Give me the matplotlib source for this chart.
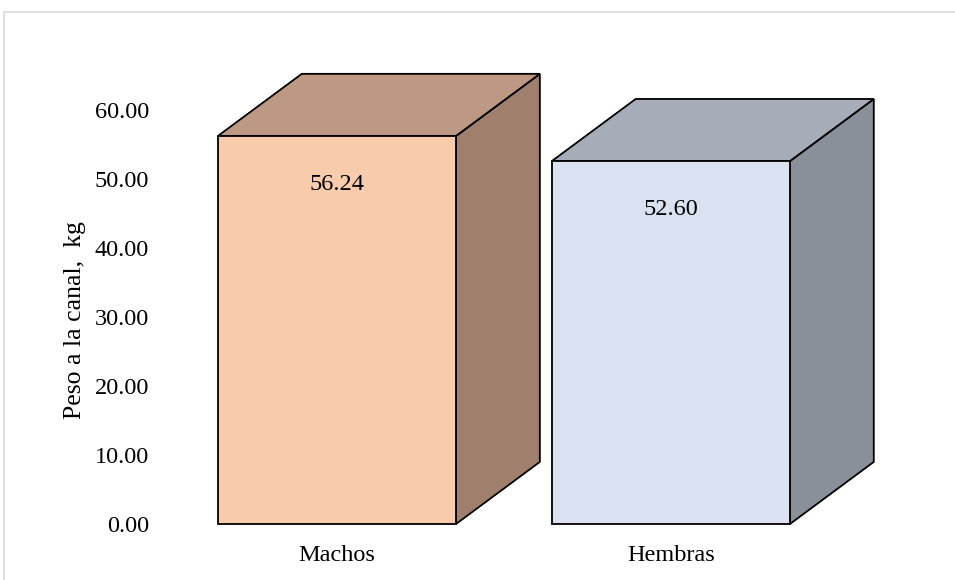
import matplotlib.pyplot as plt
from matplotlib.patches import Polygon, Rectangle

plt.rcParams['font.family'] = ['Liberation Serif', 'DejaVu Serif']

categories = ['Machos', 'Hembras']
values = [56.24, 52.60]
front_colors = ['#F8CBAD', '#DAE1F0']
top_colors = ['#BD9882', '#A6ADB8']
side_colors = ['#A0806C', '#8A9099']

bar_w = 0.713
depth_x = 0.251
depth_y = 9.0

fig = plt.figure(figsize=(9.55, 5.8), dpi=100)
ax = fig.add_axes([160 / 955, 56 / 580, 740 / 955, 483 / 580])
ax.set_xlim(-0.53, 1.686)
ax.set_ylim(0, 70)

# outer chart frame
fig.add_artist(Rectangle((4 / 955, -0.05), 1.1, (580 - 12) / 580 + 0.05,
                         transform=fig.transFigure, fill=False,
                         edgecolor='#D9D9D9', linewidth=1.2))

for i, (cat, v) in enumerate(zip(categories, values)):
    x0 = i - bar_w / 2
    x1 = i + bar_w / 2
    front = [(x0, 0), (x1, 0), (x1, v), (x0, v)]
    top = [(x0, v), (x1, v), (x1 + depth_x, v + depth_y), (x0 + depth_x, v + depth_y)]
    side = [(x1, 0), (x1 + depth_x, depth_y), (x1 + depth_x, v + depth_y), (x1, v)]
    for pts, col in [(side, side_colors[i]), (top, top_colors[i]), (front, front_colors[i])]:
        ax.add_patch(Polygon(pts, closed=True, facecolor=col, edgecolor='black',
                             linewidth=1.3, joinstyle='miter', clip_on=False))
    ax.text(i, v - 7.0, f'{v:.2f}', ha='center', va='center', fontsize=17.5)

ax.set_yticks(range(0, 61, 10))
ax.set_yticklabels([f'{t:.2f}' for t in range(0, 61, 10)], fontsize=17.5)
ax.set_xticks(range(len(categories)))
ax.set_xticklabels(categories, fontsize=17.5)
ax.tick_params(axis='both', length=0)
ax.tick_params(axis='y', pad=8)
ax.tick_params(axis='x', pad=15)
ax.set_ylabel('Peso a la canal,  kg', fontsize=18.5, va='center')
ax.yaxis.set_label_coords(-0.115, 0.422)
for s in ax.spines.values():
    s.set_visible(False)

fig.savefig('out.png', dpi=100)
